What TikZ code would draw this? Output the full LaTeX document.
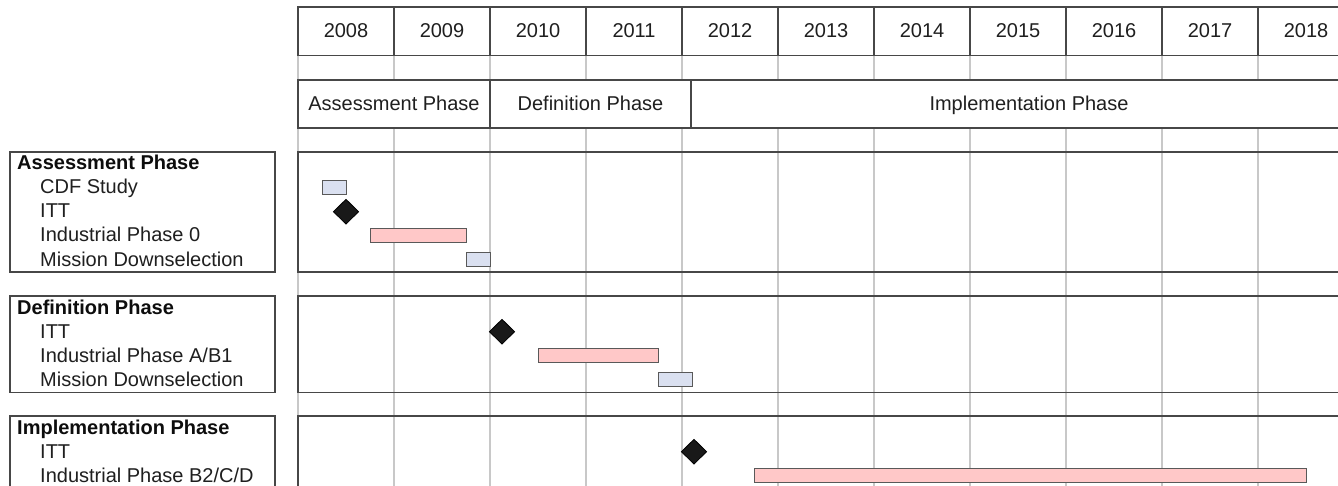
\documentclass[tikz,border=0pt]{standalone}
\usepackage{fontspec}
\setmainfont{Liberation Sans}
\usetikzlibrary{shapes.geometric}
\definecolor{barpink}{RGB}{255,200,200}
\definecolor{barblue}{RGB}{218,224,240}
\definecolor{gridgray}{RGB}{200,200,200}
\begin{document}
\begin{tikzpicture}[x=1pt,y=-1pt,
  txt/.style={font=\fontsize{20}{24}\selectfont, inner sep=0pt, text=black!88},
  hdr/.style={font=\fontsize{20}{24}\selectfont\bfseries, inner sep=0pt, text=black!95},
  frame/.style={draw=black!72, line width=1.3pt},
  gridln/.style={draw=gridgray, line width=1.4pt},
  taskbar/.style={draw=black!65, line width=1pt, rectangle, inner sep=0pt, minimum height=14.5pt, anchor=west},
  pinkbar/.style={taskbar, fill=barpink},
  bluebar/.style={taskbar, fill=barblue},
  milestone/.style={diamond, draw=black, fill=black!90, inner sep=0pt, minimum width=25.5pt, minimum height=25pt, line width=0.8pt}]
\useasboundingbox (0,0) rectangle (1338,486);
\clip (0,0) rectangle (1338,486);
\fill[white] (0,0) rectangle (1338,486);

% vertical grid lines
\foreach \k in {0,...,11} {
  \draw[gridln] ({298+96*\k},55.5) -- ({298+96*\k},490);
}

% year header row
\fill[white] (298,7) rectangle (1400,55.5);
\draw[frame] (1400,7) -- (298,7) -- (298,55.5) -- (1400,55.5);
\foreach \k in {1,...,11} {
  \draw[frame] ({298+96*\k},7) -- ({298+96*\k},55.5);
}
\foreach \i in {0,...,10} {
  \pgfmathtruncatemacro\yr{2008+\i}
  \node[txt, anchor=base] (y\yr) at ({346+96*\i},37.3) {\yr};
}

% phase row
\fill[white] (298,80) rectangle (1400,128);
\draw[frame] (1400,80) -- (298,80) -- (298,128) -- (1400,128);
\draw[frame] (490,80) -- (490,128);
\draw[frame] (691,80) -- (691,128);
\node[txt, anchor=base] (pA) at (394,111) {Assessment Phase};
\node[txt, anchor=base] (pD) at (590.5,111) {Definition Phase};
\node[txt, anchor=base] (pI) at (1029,111) {Implementation Phase};

% left label boxes
\draw[frame] (10,152) rectangle (275,272);
\draw[frame] (10,296) rectangle (275,392.5);
\draw[frame] (10,500) -- (10,416) -- (275,416) -- (275,500);

% chart boxes
\draw[frame] (1400,152) -- (298,152) -- (298,272) -- (1400,272);
\draw[frame] (1400,296) -- (298,296) -- (298,392.5) -- (1400,392.5);
\draw[frame] (1400,416) -- (298,416) -- (298,500);

% labels: assessment
\node[hdr, anchor=base west] (lA) at (17,170) {Assessment Phase};
\node[txt, anchor=base west] (lA1) at (40,194) {CDF Study};
\node[txt, anchor=base west] (lA2) at (40,218) {ITT};
\node[txt, anchor=base west] (lA3) at (40,242) {Industrial Phase 0};
\node[txt, anchor=base west] (lA4) at (40,266) {Mission Downselection};
% labels: definition
\node[hdr, anchor=base west] (lD) at (17,314) {Definition Phase};
\node[txt, anchor=base west] (lD1) at (40,338) {ITT};
\node[txt, anchor=base west] (lD2) at (40,362) {Industrial Phase A/B1};
\node[txt, anchor=base west] (lD3) at (40,386) {Mission Downselection};
% labels: implementation
\node[hdr, anchor=base west] (lI) at (17,434) {Implementation Phase};
\node[txt, anchor=base west] (lI1) at (40,458) {ITT};
\node[txt, anchor=base west] (lI2) at (40,482) {Industrial Phase B2/C/D};

% tasks: assessment
\node[bluebar, minimum width=24pt] (bA1) at (322,187.7) {};
\node[milestone] (mA2) at (346,211.7) {};
\node[pinkbar, minimum width=96pt] (bA3) at (370,235.7) {};
\node[bluebar, minimum width=24pt] (bA4) at (466,259.7) {};
% tasks: definition
\node[milestone] (mD1) at (502,331.7) {};
\node[pinkbar, minimum width=120pt] (bD2) at (538,355.7) {};
\node[bluebar, minimum width=34pt] (bD3) at (658,379.7) {};
% tasks: implementation
\node[milestone] (mI1) at (694,451.7) {};
\node[pinkbar, minimum width=552pt] (bI2) at (754,475.7) {};
\end{tikzpicture}
\end{document}
